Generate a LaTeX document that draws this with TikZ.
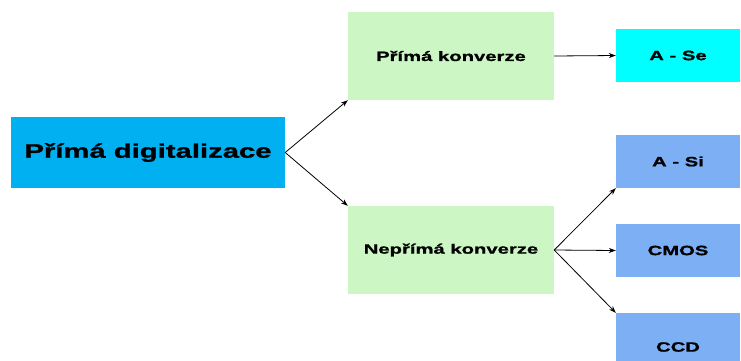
\documentclass[tikz,border=0pt]{standalone}
\usepackage{fontspec}
\setmainfont{Liberation Sans}[FakeStretch=1.5, BoldFeatures={FakeBold=1.2}]
\usepackage{tikz}
\usetikzlibrary{arrows.meta}
\usetikzlibrary{positioning}
\definecolor{pdblue}{RGB}{0,176,240}
\definecolor{kgreen}{RGB}{204,247,196}
\definecolor{secyan}{RGB}{0,255,255}
\definecolor{detblue}{RGB}{125,175,245}
\tikzset{
  box/.style={rectangle, inner sep=0pt, font=\bfseries\fontsize{13.5}{16}\selectfont},
  conv/.style={box, fill=kgreen, minimum width=206pt, minimum height=88pt},
  det/.style={box, fill=detblue, minimum width=124pt, minimum height=53pt},
  arr/.style={-{Stealth[length=7pt,width=5pt]}, line width=0.8pt}
}

\begin{document}
\begin{tikzpicture}[x=1pt,y=-1pt]
\clip (0,0) rectangle (741,360);
\fill[white] (0,0) rectangle (741,360);
\node[box,fill=pdblue,minimum width=274pt,minimum height=71pt,font=\bfseries\fontsize{19.5}{22}\selectfont] (pd) at (148,152.5) {Přímá digitalizace};
\node[conv] (pk) at (451,56) {Přímá konverze};
\node[conv] (nk) at (451,250) {Nepřímá konverze};
\node[det,fill=secyan] (ase) at (678,55.5) {A - Se};
\node[det] (asi) at (678,161.5) {A - Si};
\node[det] (cmos) at (678,250.5) {CMOS};
\node[det,minimum height=68pt] (ccd) at (678,347) {CCD};
\draw[arr] (pd.east) -- (pk.south west);
\draw[arr] (pd.east) -- (nk.north west);
\draw[arr] (pk.east) -- (ase.west);
\draw[arr] (nk.east) -- (asi.south west);
\draw[arr] (nk.east) -- (cmos.west);
\draw[arr] (nk.east) -- (ccd.north west);
\end{tikzpicture}
\end{document}
